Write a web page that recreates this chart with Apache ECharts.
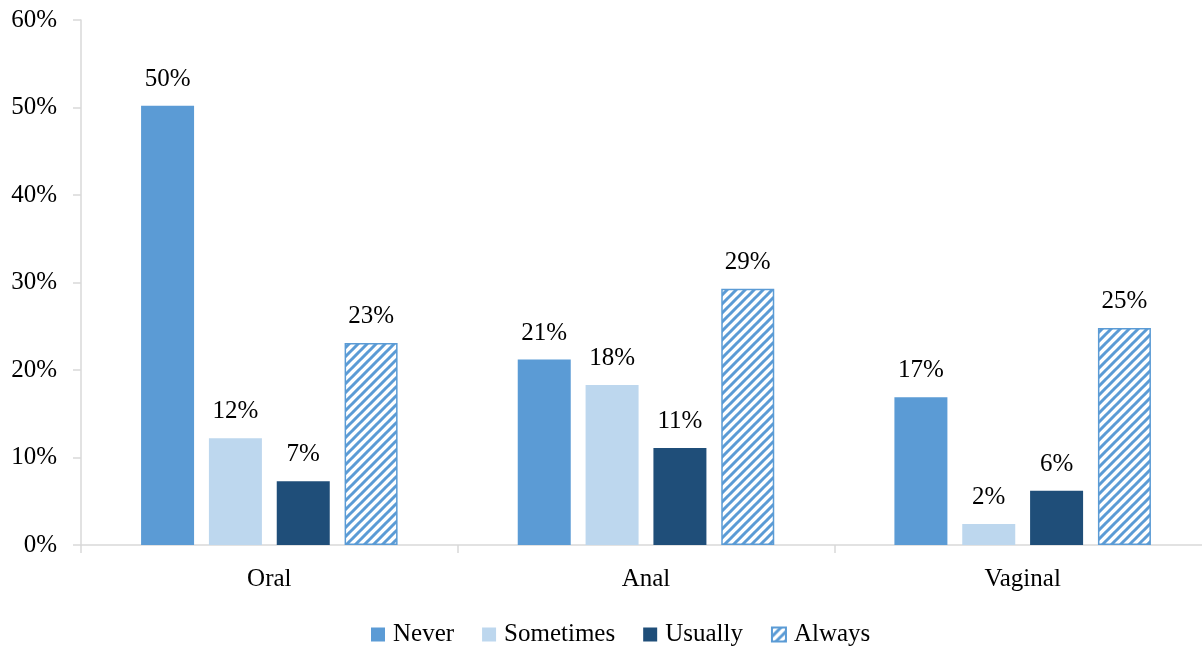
<!DOCTYPE html>
<html>
<head>
<meta charset="utf-8">
<script src="https://cdn.jsdelivr.net/npm/echarts@6/dist/echarts.min.js"></script>
<style>html,body{margin:0;padding:0;background:#fff;overflow:hidden}#c{width:1212px;height:650px}</style>
</head>
<body>
<div id="c"></div>
<script>
const categories = ['Oral', 'Anal', 'Vaginal'];
const seriesNames = ['Never', 'Sometimes', 'Usually', 'Always'];
const never = [50.2, 21.2, 16.9];
const sometimes = [12.2, 18.3, 2.4];
const usually = [7.3, 11.1, 6.2];
const always = [23.1, 29.3, 24.8];
const yTicks = [0, 10, 20, 30, 40, 50, 60];

const FONT = '"Liberation Serif", "DejaVu Serif", serif';
const FS = 25;

function hatch() {
  const c = document.createElement('canvas');
  const s = 9;
  c.width = s; c.height = s;
  const g = c.getContext('2d');
  g.fillStyle = '#fff';
  g.fillRect(0, 0, s, s);
  g.strokeStyle = '#5B9BD5';
  g.lineWidth = 3;
  g.beginPath();
  for (let k = -1; k <= 1; k++) {
    g.moveTo(k * s - 1, s + 1);
    g.lineTo(k * s + s + 1, -1);
  }
  g.stroke();
  return { image: c, repeat: 'repeat' };
}

const colors = ['#5B9BD5', '#BDD7EE', '#1F4E79', hatch()];
const values = [never, sometimes, usually, always];

const chart = echarts.init(document.getElementById('c'));
chart.setOption({
  animation: false,
  textStyle: { fontFamily: FONT },
  grid: { left: 81, top: 20, right: 1, bottom: 105, containLabel: false },
  legend: {
    top: 617,
    left: 366,
    itemWidth: 14, itemHeight: 14, itemGap: 28,
    textStyle: { fontFamily: FONT, fontSize: FS, color: '#000', padding: [0, 0, 0, 3] },
    data: seriesNames.map(n => ({ name: n, icon: 'rect' }))
  },
  xAxis: {
    type: 'category',
    data: categories,
    axisLine: { lineStyle: { color: '#D9D9D9', width: 1.5 } },
    axisTick: { show: true, length: 8, lineStyle: { color: '#D9D9D9', width: 1.5 } },
    axisLabel: { fontFamily: FONT, fontSize: FS, color: '#000', margin: 22 }
  },
  yAxis: {
    type: 'value',
    min: 0, max: 60, interval: 10,
    axisLine: { show: true, lineStyle: { color: '#D9D9D9', width: 1.5 } },
    axisTick: { show: true, length: 8, lineStyle: { color: '#D9D9D9', width: 1.5 } },
    splitLine: { show: false },
    axisLabel: {
      fontFamily: FONT, fontSize: FS, color: '#000', margin: 24,
      formatter: v => yTicks.includes(v) ? v + '%' : ''
    }
  },
  series: seriesNames.map((name, i) => ({
    name,
    type: 'bar',
    data: values[i],
    barWidth: 53,
    barGap: '28%',
    itemStyle: i === 3
      ? { color: colors[3], borderColor: '#5B9BD5', borderWidth: 1.5 }
      : { color: colors[i] },
    label: {
      show: true,
      position: 'top',
      distance: 14,
      fontFamily: FONT,
      fontSize: FS,
      color: '#000',
      formatter: p => Math.round(p.value) + '%'
    }
  }))
});
</script>
</body>
</html>
